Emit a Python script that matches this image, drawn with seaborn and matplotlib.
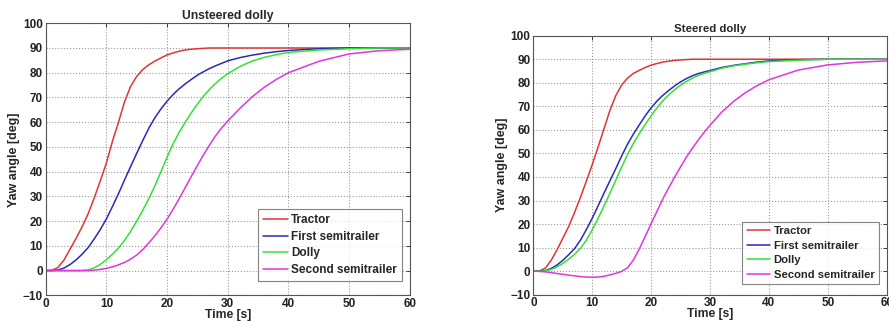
import numpy as np
import pandas as pd
import matplotlib
matplotlib.use("Agg")
import matplotlib.pyplot as plt
import seaborn as sns

# ---------------- data ----------------
time = [0, 1, 2, 3, 4, 5, 6, 7, 8, 9,
        10, 11, 12, 13, 14, 15, 16, 17, 18, 19,
        20, 21, 22, 23, 24, 25, 26, 27, 28, 29,
        30, 32, 34, 36, 38, 40, 45, 50, 55, 60]

series_names = ["Tractor", "First semitrailer", "Dolly", "Second semitrailer"]

# Unsteered dolly
unst_tractor = [0, 0.1, 1.2, 4.2, 8.6, 13, 17.7, 23, 29.4, 36.3,
                43.5, 52.3, 60, 68.3, 74.5, 78.5, 81.3, 83.2, 84.7, 86,
                87.2, 88, 88.7, 89.2, 89.5, 89.7, 89.85, 90, 90, 90,
                90, 90, 90, 90, 90, 90, 90, 90, 90, 90]
unst_first = [0, 0, 0.2, 1, 2.4, 4.3, 6.6, 9.3, 12.8, 16.6,
              20.9, 25.9, 31.1, 36.7, 42.1, 47.4, 52.6, 57.6, 61.8, 65.4,
              68.5, 71.2, 73.5, 75.5, 77.3, 79, 80.4, 81.7, 82.8, 83.8,
              84.8, 86.1, 87.1, 87.9, 88.5, 89, 89.7, 90, 90, 90]
unst_dolly = [0, 0, 0, 0, 0, 0, 0, 0.3, 1.1, 2.5,
              4.4, 6.6, 9.1, 12.2, 15.9, 20, 24.4, 29.1, 34.3, 40,
              45.9, 51.3, 55.9, 60, 63.8, 67.3, 70.5, 73.3, 75.7, 77.8,
              79.6, 82.5, 84.7, 86.2, 87.3, 88.2, 89.2, 89.7, 90, 90]
unst_second = [0, 0, 0, 0, 0, 0, 0, 0, 0.15, 0.45,
               0.9, 1.5, 2.3, 3.3, 4.6, 6.3, 8.5, 11.2, 14.1, 17.3,
               20.8, 24.8, 29.1, 33.6, 38.1, 42.5, 46.8, 50.8, 54.5, 57.7,
               60.5, 65.6, 70.2, 74.1, 77.3, 80, 84.6, 87.6, 88.9, 89.5]

# Steered dolly
st_tractor = [0, 0.1, 1.2, 4.5, 9, 14, 19, 25, 31.4, 38.3,
              45.3, 52.8, 60.6, 68.3, 74.6, 79.1, 82, 84, 85.3, 86.5,
              87.5, 88.2, 88.8, 89.2, 89.5, 89.7, 89.85, 90, 90, 90,
              90, 90, 90, 90, 90, 90, 90, 90, 90, 90]
st_first = [0, 0, 0.2, 1.1, 2.6, 4.6, 7, 9.6, 13.2, 17.7,
            22.5, 27.8, 33.2, 38.4, 43.6, 49, 54, 58.3, 62.2, 66,
            69.4, 72.3, 74.7, 76.8, 78.7, 80.4, 81.8, 83, 83.9, 84.6,
            85.2, 86.5, 87.4, 88.1, 88.8, 89.3, 89.8, 90, 90, 90]
st_dolly = [0, 0, 0.1, 0.7, 1.8, 3.3, 5.1, 7.2, 9.7, 13.2,
            17.6, 22.5, 27.7, 33.1, 38.7, 44.3, 49.6, 54.3, 58.5, 62.3,
            66, 69.4, 72.4, 74.9, 77.1, 79, 80.6, 82, 83.1, 84,
            84.7, 86.2, 87.2, 87.9, 88.5, 89, 89.6, 90, 90, 90]
st_second = [0, -0.1, -0.3, -0.6, -1, -1.35, -1.7, -2, -2.3, -2.5,
             -2.6, -2.5, -2.2, -1.6, -0.9, -0.1, 1.5, 4.8, 9.5, 14.8,
             20.2, 25.5, 30.8, 35.5, 40, 44.3, 48.5, 52.2, 55.7, 59,
             62, 67.6, 72.1, 75.8, 78.8, 81.3, 85.4, 87.6, 88.7, 89.3]

titles = ["Unsteered dolly", "Steered dolly"]
xticks = [0, 10, 20, 30, 40, 50, 60]
yticks = [-10, 0, 10, 20, 30, 40, 50, 60, 70, 80, 90, 100]

colors = {"Tractor": "#e03535", "First semitrailer": "#2a2ab8",
          "Dolly": "#35e035", "Second semitrailer": "#e035e0"}

def make_df(vals):
    rows = []
    for name, v in zip(series_names, vals):
        for t, y in zip(time, v):
            rows.append({"Time": t, "Yaw": y, "Series": name})
    return pd.DataFrame(rows)

dfs = [make_df([unst_tractor, unst_first, unst_dolly, unst_second]),
       make_df([st_tractor, st_first, st_dolly, st_second])]

# ---------------- plot ----------------
sns.set_theme(style="white")
plt.rcParams["font.family"] = ["Liberation Sans", "DejaVu Sans"]
plt.rcParams["font.weight"] = "bold"

fig = plt.figure(figsize=(8.89, 3.23), dpi=100)
positions = [[0.0514, 0.0858, 0.4096, 0.8422], [0.600, 0.0876, 0.3974, 0.8019]]
legend_anchor = [(0.978, 0.053), (0.978, 0.041)]
legend_size = [8.5, 8.1]
title_size = [8.7, 8.2]

for i, (df, pos) in enumerate(zip(dfs, positions)):
    ax = fig.add_axes(pos)
    sns.lineplot(data=df, x="Time", y="Yaw", hue="Series", hue_order=series_names,
                 palette=colors, linewidth=1.1, ax=ax, sort=False)
    ax.set_xlim(0, 60)
    ax.set_ylim(-10, 100)
    ax.set_xticks(xticks)
    ax.set_yticks(yticks)
    ax.grid(True, linestyle=":", color="#999999", linewidth=0.8)
    for sp in ax.spines.values():
        sp.set_visible(True)
        sp.set_color("#555555")
        sp.set_linewidth(0.8)
    ax.tick_params(direction="in", length=3, width=0.6, top=True, right=True,
                   labelsize=8.5, pad=2, colors="#222222")
    for lab in ax.get_xticklabels() + ax.get_yticklabels():
        lab.set_fontweight("bold")
    ax.set_title(titles[i], fontsize=title_size[i], fontweight="bold", pad=3)
    ax.set_xlabel("Time [s]", fontsize=8.7, fontweight="bold", labelpad=-1)
    ax.set_ylabel("Yaw angle [deg]", fontsize=8.9, fontweight="bold", labelpad=2)
    leg = ax.legend(loc="lower right", bbox_to_anchor=legend_anchor[i],
                    prop={"weight": "bold", "size": legend_size[i]}, frameon=True, fancybox=False,
                    handlelength=2.1, handletextpad=0.3, borderpad=0.4, labelspacing=0.4,
                    borderaxespad=0.0)
    leg.get_frame().set_edgecolor("#666666")
    leg.get_frame().set_linewidth(0.8)

fig.savefig("out.png", dpi=100)
